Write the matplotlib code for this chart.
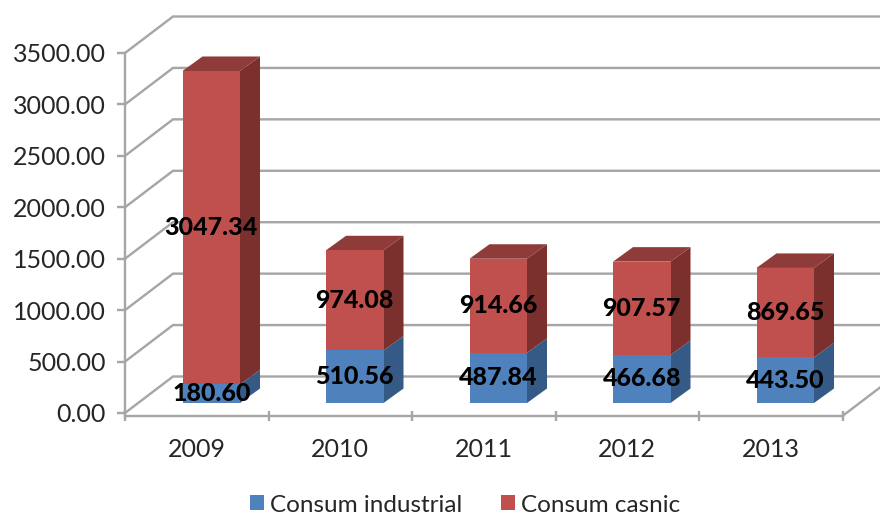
import matplotlib
matplotlib.use("Agg")
import matplotlib.pyplot as plt
from matplotlib.patches import Polygon
import numpy as np

years = ["2009", "2010", "2011", "2012", "2013"]
industrial = [180.60, 510.56, 487.84, 466.68, 443.50]
casnic = [3047.34, 974.08, 914.66, 907.57, 869.65]
y_ticks = [0, 500, 1000, 1500, 2000, 2500, 3000, 3500]

BLUE, BLUE_SIDE = "#4F81BD", "#345A85"
RED, RED_SIDE, RED_TOP = "#C0504D", "#7C302E", "#8F3B39"
GRID = "#A6A6A6"
TXT = "#262626"

plt.rcParams["font.family"] = ["Lato", "DejaVu Sans"]
W, H = 880, 517
fig = plt.figure(figsize=(W / 100, H / 100), dpi=100)
L, R, B, T = 125, 842.5, 413, 53
ax = fig.add_axes([L / W, 1 - B / H, (R - L) / W, (B - T) / H])
ax.set_xlim(0, 5)
ax.set_ylim(0, 3500)

# pixel -> data conversion for the oblique depth
px_x = 5 / (R - L)
px_y = 3500 / (B - T)
lw = 2.4 * 72 / 100

wall_dx, wall_dy = 48 * px_x, 36.5 * px_y
floor_drop = 3 * px_y
for v in y_ticks:
    ax.plot([0, wall_dx, 5 + wall_dx], [v, v + wall_dy, v + wall_dy],
            color=GRID, lw=lw, clip_on=False, zorder=1, solid_joinstyle="miter")
ax.plot([5, 5 + wall_dx], [-floor_drop, wall_dy - floor_drop], color=GRID, lw=lw,
        clip_on=False, zorder=1)

# bars
x = np.arange(5) + 0.5
shift_x = 14.5 * px_x
base = 10 * px_y
bw = 57.5 * px_x
bar_dx, bar_dy = 20 * px_x, 14.5 * px_y
xs = x + shift_x
ind = np.array(industrial)
cas = np.array(casnic)
b1 = ax.bar(xs, ind, bw, bottom=base, color=BLUE, zorder=3, label="Consum industrial", clip_on=False)
b2 = ax.bar(xs, cas, bw, bottom=base + ind, color=RED, zorder=3, label="Consum casnic", clip_on=False)
for xc, i, c in zip(xs, ind, cas):
    xr = xc + bw / 2
    xl = xc - bw / 2
    y0, y1, y2 = base, base + i, base + i + c
    ax.add_patch(Polygon([(xr, y0), (xr + bar_dx, y0 + bar_dy), (xr + bar_dx, y1 + bar_dy), (xr, y1)],
                         fc=BLUE_SIDE, ec="none", zorder=2.5, clip_on=False))
    ax.add_patch(Polygon([(xr, y1), (xr + bar_dx, y1 + bar_dy), (xr + bar_dx, y2 + bar_dy), (xr, y2)],
                         fc=RED_SIDE, ec="none", zorder=2.5, clip_on=False))
    ax.add_patch(Polygon([(xl, y2), (xr, y2), (xr + bar_dx, y2 + bar_dy), (xl + bar_dx, y2 + bar_dy)],
                         fc=RED_TOP, ec="none", zorder=2.5, clip_on=False))
    ax.text(xc, y0 + i / 2, f"{i:.2f}", ha="center", va="center", fontsize=18,
            fontweight="black", color="black", zorder=5)
    ax.text(xc, y1 + c / 2, f"{c:.2f}", ha="center", va="center", fontsize=18,
            fontweight="black", color="black", zorder=5)

# axes
for s in ("top", "right"):
    ax.spines[s].set_visible(False)
ax.patch.set_visible(False)
for s in ("left", "bottom"):
    ax.spines[s].set_color(GRID)
    ax.spines[s].set_linewidth(lw)
ax.spines["bottom"].set_position(("outward", 3 * 0.72))
ax.set_yticks(y_ticks)
ax.set_yticklabels([f"{v:.2f}" for v in y_ticks], fontsize=18, color=TXT)
ax.tick_params(axis="y", length=8 * 0.72, width=lw, color=GRID, pad=8)
ax.set_xticks(range(6))
ax.set_xticklabels([])
ax.tick_params(axis="x", which="major", direction="inout", length=10 * 0.72, width=lw, color=GRID)
ax.set_xticks(x, minor=True)
ax.set_xticklabels(years, minor=True, fontsize=18, color=TXT)
ax.tick_params(axis="x", which="minor", length=0, pad=16)

leg = fig.legend(handles=[b1, b2], loc="center", bbox_to_anchor=(465 / W, 1 - 505 / H), ncol=2,
                 frameon=False, fontsize=17.5, handlelength=0.58, handleheight=0.58,
                 handletextpad=0.24, columnspacing=1.6, labelcolor=TXT, borderpad=0, borderaxespad=0)
fig.savefig("out.png", dpi=100)
